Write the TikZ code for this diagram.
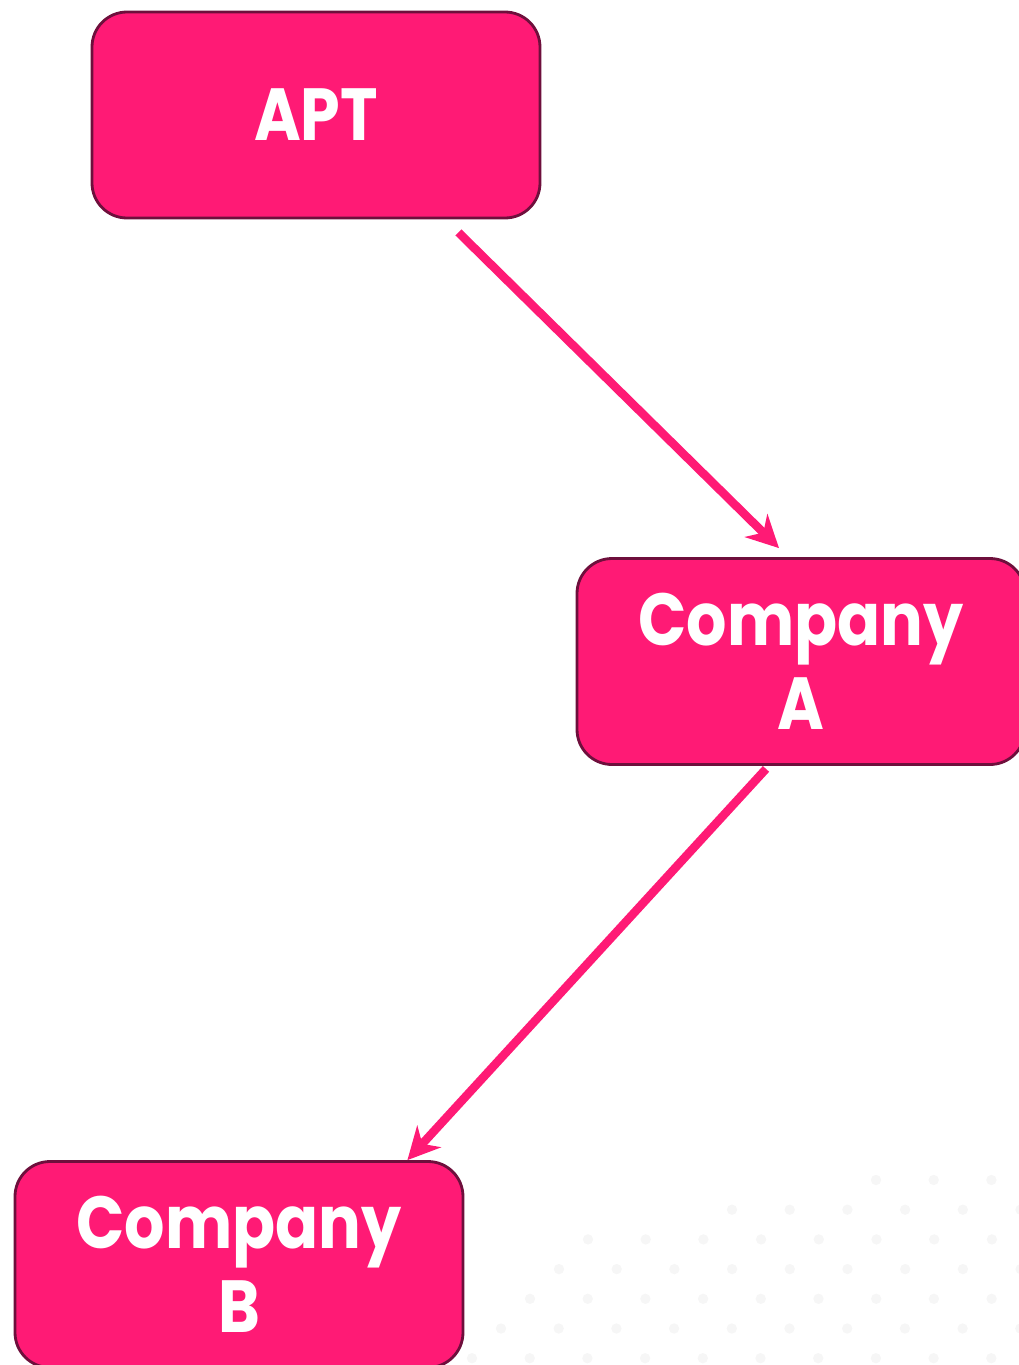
\documentclass[tikz,border=0pt]{standalone}
\usepackage{fontspec}
\setmainfont{Poppins}[FakeStretch=0.86]
\usetikzlibrary{arrows.meta}
\definecolor{hotpink}{HTML}{FF1A75}
\definecolor{edgeplum}{HTML}{6E0F3C}
\definecolor{dotgrey}{HTML}{F6F6F6}

\begin{document}
\begin{tikzpicture}[>={Stealth[length=3.2mm,width=3.2mm,inset=1mm]},
  firm/.style={draw=edgeplum, line width=0.8pt, fill=hotpink, rounded corners=0.35cm,
    minimum width=4.48cm, minimum height=2.06cm, align=center, text=white,
    font=\bfseries\fontsize{21}{24}\selectfont},
  link/.style={->, draw=hotpink, line width=0.085cm}]
\useasboundingbox (0,0) rectangle (10.18,-13.65);
% faint dotted backdrop
\foreach \r/\xs in {0/876,1/732,2/588,3/559,4/530,5/501,6/472}
  \foreach \c in {0,...,10}
    \fill[dotgrey] ({(\xs+57.7*\c)/100},{-(1180+29.7*\r)/100}) circle (0.052);
\node[firm] (apt) at (3.16,-1.15) {APT};
\node[firm] (compa) at (8.01,-6.615) {Company\\A};
\node[firm] (compb) at (2.39,-12.645) {Company\\B};
\draw[link] ([xshift=-8.3mm,yshift=-1.3mm]apt.south east) -- ([xshift=-2.2mm,yshift=0.9mm]compa.north);
\draw[link] ([xshift=-3.5mm,yshift=-0.3mm]compa.south) -- ([xshift=-5.7mm]compb.north east);
\end{tikzpicture}
\end{document}
